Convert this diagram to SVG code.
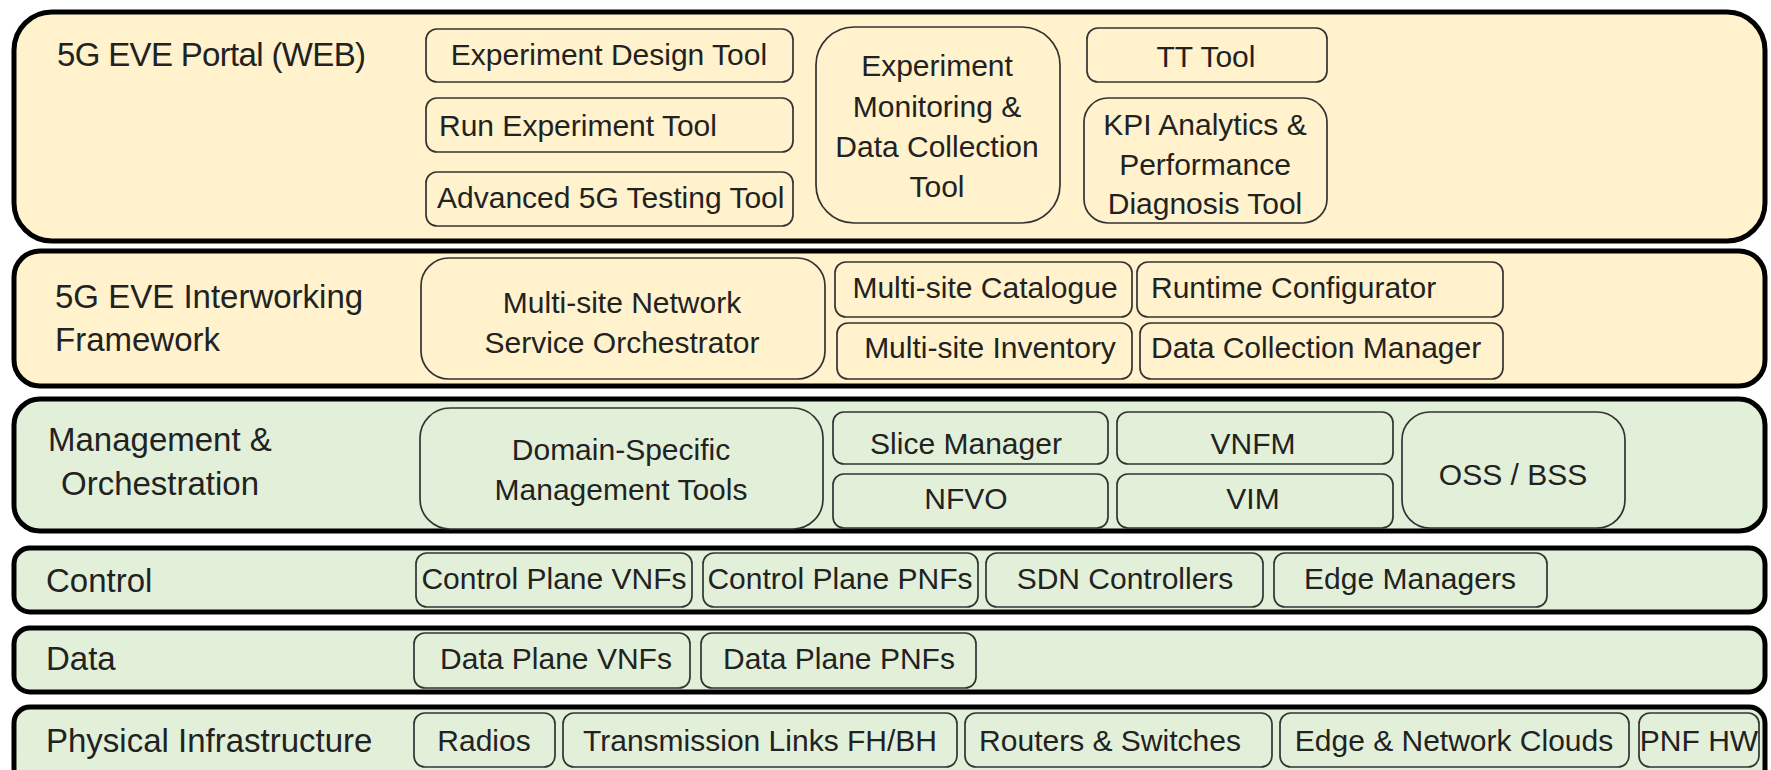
<svg xmlns="http://www.w3.org/2000/svg" width="1771" height="770" viewBox="0 0 1771 770">
<style>
  .band { stroke: #000; stroke-width: 5; }
  .yel { fill: #FFF2CC; }
  .grn { fill: #E2F0D9; }
  .box { stroke: #333; stroke-width: 1.7; }
  text { font-family: "Liberation Sans", Arial, sans-serif; fill: #222; }
  .lbl { font-size: 33px; }
  .t { font-size: 30px; text-anchor: middle; }
  .ts { font-size: 30px; text-anchor: start; }
</style>
<rect width="1771" height="770" fill="#fff"/>

<g id="layer-portal">
  <rect class="band yel" x="14" y="12" width="1751" height="229" rx="38"/>
  <text class="lbl" x="57" y="66" textLength="309">5G EVE Portal (WEB)</text>
</g>
<g id="experiment-design-tool">
  <rect class="box yel" x="426" y="29" width="367" height="53" rx="11"/>
  <text class="t" x="609" y="65">Experiment Design Tool</text>
</g>
<g id="run-experiment-tool">
  <rect class="box yel" x="426" y="98" width="367" height="54" rx="11"/>
  <text class="ts" x="439" y="136">Run Experiment Tool</text>
</g>
<g id="advanced-5g-testing-tool">
  <rect class="box yel" x="426" y="172" width="367" height="54" rx="11"/>
  <text class="ts" x="437" y="208">Advanced 5G Testing Tool</text>
</g>
<g id="experiment-monitoring">
  <rect class="box yel" x="816" y="27" width="244" height="196" rx="38"/>
  <text class="t" x="937" y="76">Experiment</text>
  <text class="t" x="937" y="117">Monitoring &amp;</text>
  <text class="t" x="937" y="157">Data Collection</text>
  <text class="t" x="937" y="197">Tool</text>
</g>
<g id="tt-tool">
  <rect class="box yel" x="1087" y="28" width="240" height="54" rx="11"/>
  <text class="t" x="1206" y="67">TT Tool</text>
</g>
<g id="kpi-analytics">
  <rect class="box yel" x="1084" y="98" width="243" height="125" rx="24"/>
  <text class="t" x="1205" y="135">KPI Analytics &amp;</text>
  <text class="t" x="1205" y="175">Performance</text>
  <text class="t" x="1205" y="214">Diagnosis Tool</text>
</g>

<g id="layer-interworking">
  <rect class="band yel" x="14" y="251" width="1751" height="135" rx="26"/>
  <text class="lbl" x="55" y="308">5G EVE Interworking</text>
  <text class="lbl" x="55" y="351">Framework</text>
</g>
<g id="multi-site-nso">
  <rect class="box yel" x="421" y="258" width="404" height="121" rx="28"/>
  <text class="t" x="622" y="313">Multi-site Network</text>
  <text class="t" x="622" y="353">Service Orchestrator</text>
</g>
<g id="multi-site-catalogue">
  <rect class="box yel" x="835" y="262" width="297" height="55" rx="11"/>
  <text class="t" x="985" y="298">Multi-site Catalogue</text>
</g>
<g id="multi-site-inventory">
  <rect class="box yel" x="837" y="323" width="295" height="56" rx="11"/>
  <text class="t" x="990" y="358">Multi-site Inventory</text>
</g>
<g id="runtime-configurator">
  <rect class="box yel" x="1137" y="262" width="366" height="55" rx="11"/>
  <text class="ts" x="1151" y="298">Runtime Configurator</text>
</g>
<g id="data-collection-manager">
  <rect class="box yel" x="1140" y="323" width="363" height="56" rx="11"/>
  <text class="ts" x="1151" y="358">Data Collection Manager</text>
</g>

<g id="layer-management">
  <rect class="band grn" x="14" y="399" width="1751" height="132" rx="26"/>
  <text class="lbl" x="48" y="451">Management &amp;</text>
  <text class="lbl" x="61" y="495">Orchestration</text>
</g>
<g id="domain-specific-tools">
  <rect class="box grn" x="420" y="408" width="403" height="121" rx="30"/>
  <text class="t" x="621" y="460">Domain-Specific</text>
  <text class="t" x="621" y="500">Management Tools</text>
</g>
<g id="slice-manager">
  <rect class="box grn" x="833" y="412" width="275" height="52" rx="11"/>
  <text class="t" x="966" y="454">Slice Manager</text>
</g>
<g id="nfvo">
  <rect class="box grn" x="833" y="474" width="275" height="54" rx="11"/>
  <text class="t" x="966" y="509">NFVO</text>
</g>
<g id="vnfm">
  <rect class="box grn" x="1117" y="412" width="276" height="52" rx="11"/>
  <text class="t" x="1253" y="454">VNFM</text>
</g>
<g id="vim">
  <rect class="box grn" x="1117" y="474" width="276" height="54" rx="11"/>
  <text class="t" x="1253" y="509">VIM</text>
</g>
<g id="oss-bss">
  <rect class="box grn" x="1402" y="412" width="223" height="116" rx="28"/>
  <text class="t" x="1513" y="485">OSS / BSS</text>
</g>

<g id="layer-control">
  <rect class="band grn" x="14" y="548" width="1751" height="64" rx="16"/>
  <text class="lbl" x="46" y="592">Control</text>
</g>
<g id="control-plane-vnfs">
  <rect class="box grn" x="416" y="553" width="276" height="54" rx="11"/>
  <text class="t" x="554" y="589">Control Plane VNFs</text>
</g>
<g id="control-plane-pnfs">
  <rect class="box grn" x="703" y="553" width="275" height="54" rx="11"/>
  <text class="t" x="840" y="589">Control Plane PNFs</text>
</g>
<g id="sdn-controllers">
  <rect class="box grn" x="986" y="553" width="277" height="54" rx="11"/>
  <text class="t" x="1125" y="589">SDN Controllers</text>
</g>
<g id="edge-managers">
  <rect class="box grn" x="1274" y="553" width="273" height="54" rx="11"/>
  <text class="t" x="1410" y="589">Edge Managers</text>
</g>

<g id="layer-data">
  <rect class="band grn" x="14" y="628" width="1751" height="64" rx="16"/>
  <text class="lbl" x="46" y="670">Data</text>
</g>
<g id="data-plane-vnfs">
  <rect class="box grn" x="414" y="633" width="276" height="55" rx="11"/>
  <text class="t" x="556" y="669">Data Plane VNFs</text>
</g>
<g id="data-plane-pnfs">
  <rect class="box grn" x="701" y="633" width="275" height="55" rx="11"/>
  <text class="t" x="839" y="669">Data Plane PNFs</text>
</g>

<g id="layer-physical">
  <rect class="band grn" x="14" y="707" width="1751" height="90" rx="16"/>
  <text class="lbl" x="46" y="752">Physical Infrastructure</text>
</g>
<g id="radios">
  <rect class="box grn" x="414" y="713" width="141" height="54" rx="11"/>
  <text class="t" x="484" y="751">Radios</text>
</g>
<g id="transmission-links">
  <rect class="box grn" x="563" y="713" width="394" height="54" rx="11"/>
  <text class="t" x="760" y="751">Transmission Links FH/BH</text>
</g>
<g id="routers-switches">
  <rect class="box grn" x="965" y="713" width="307" height="54" rx="11"/>
  <text class="t" x="1110" y="751">Routers &amp; Switches</text>
</g>
<g id="edge-network-clouds">
  <rect class="box grn" x="1280" y="713" width="349" height="54" rx="11"/>
  <text class="t" x="1454" y="751">Edge &amp; Network Clouds</text>
</g>
<g id="pnf-hw">
  <rect class="box grn" x="1639" y="713" width="120" height="54" rx="11"/>
  <text class="t" x="1699" y="751" font-size="29">PNF HW</text>
</g>

<g id="connectors"></g>
</svg>
